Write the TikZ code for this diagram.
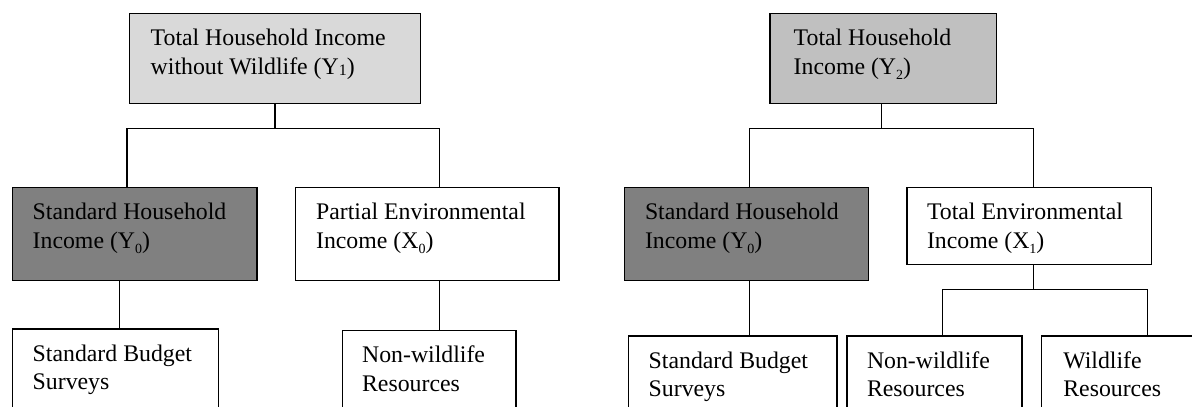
\documentclass[tikz,border=0pt]{standalone}
\usepackage{fontspec}
\setmainfont{Liberation Serif}
\newcommand\lowsub[1]{\raisebox{-5pt}{\fontsize{14}{14}\selectfont #1}}
\newcommand\flatsub[1]{\raisebox{-1.5pt}{\fontsize{16}{16}\selectfont #1}}
\definecolor{lightfill}{HTML}{D9D9D9}
\definecolor{midfill}{HTML}{C0C0C0}
\definecolor{darkfill}{HTML}{808080}
\tikzset{
  box/.style={draw=black, line width=1.5pt, inner sep=0pt, outer sep=0pt, anchor=north west, rectangle},
  txt/.style={inner sep=0pt, outer sep=0pt, anchor=base west, align=left,
    font=\fontsize{23.8}{28.6}\selectfont},
  link/.style={draw=black, line width=1.5pt}
}
\begin{document}
\begin{tikzpicture}[x=1pt,y=-1pt]
\useasboundingbox (0,0) rectangle (1192,407);
% ---------- left tree ----------
\node[box, fill=lightfill, minimum width=291, minimum height=90] (T1) at (129.3,13.7) {};
\node[box, fill=darkfill, minimum width=244.7, minimum height=92.6] (M1a) at (12.3,187.7) {};
\node[box, fill=white, minimum width=263.3, minimum height=92.6] (M1b) at (295.7,187.7) {};
\node[box, fill=white, minimum width=206, minimum height=100] (B1a) at (12.3,329) {};
\node[box, fill=white, minimum width=173.5, minimum height=100] (B1b) at (342.7,330.7) {};
\node[txt] (T1t) at ([shift={(21.4,60.6)}]T1.north west) {Total Household Income\\without Wildlife (Y\flatsub{1})};
\node[txt] (M1at) at ([shift={(20.4,60.6)}]M1a.north west) {Standard Household\\Income (Y\lowsub{0})};
\node[txt] (M1bt) at ([shift={(20.4,60.6)}]M1b.north west) {Partial Environmental\\Income (X\lowsub{0})};
\node[txt] (B1at) at ([shift={(20.4,60.6)}]B1a.north west) {Standard Budget\\Surveys};
\node[txt] (B1bt) at ([shift={(19.4,60.6)}]B1b.north west) {Non-wildlife\\Resources};
\coordinate (h1L) at (127,128.3);
\coordinate (h1R) at (439.3,128.3);
\coordinate (s1a) at (119.3,0);
\coordinate (s1b) at (439.3,0);
\draw[link] (T1.south) -- (T1.south |- h1L);
\draw[link] (h1L |- M1a.north) -- (h1L) -- (h1R) -- (h1R |- M1b.north);
\draw[link] (s1a |- M1a.south) -- (s1a |- B1a.north);
\draw[link] (s1b |- M1b.south) -- (s1b |- B1b.north);
% ---------- right tree ----------
\node[box, fill=midfill, minimum width=226.7, minimum height=90] (T2) at (770,13.7) {};
\node[box, fill=darkfill, minimum width=244.4, minimum height=92.6] (M2a) at (624.3,187.7) {};
\node[box, fill=white, minimum width=244.3, minimum height=77] (M2b) at (907,187.7) {};
\node[box, fill=white, minimum width=208.4, minimum height=100] (B2a) at (628.4,336) {};
\node[box, fill=white, minimum width=174.7, minimum height=100] (B2b) at (847.2,336) {};
\node[box, fill=white, minimum width=180, minimum height=100] (B2c) at (1041.7,336) {};
\node[txt] (T2t) at ([shift={(23.7,60.6)}]T2.north west) {Total Household\\Income (Y\lowsub{2})};
\node[txt] (M2at) at ([shift={(20.7,60.6)}]M2a.north west) {Standard Household\\Income (Y\lowsub{0})};
\node[txt] (M2bt) at ([shift={(20,60.6)}]M2b.north west) {Total Environmental\\Income (X\lowsub{1})};
\node[txt] (B2at) at ([shift={(20.3,60.6)}]B2a.north west) {Standard Budget\\Surveys};
\node[txt] (B2bt) at ([shift={(19.8,60.6)}]B2b.north west) {Non-wildlife\\Resources};
\node[txt] (B2ct) at ([shift={(21.6,60.6)}]B2c.north west) {Wildlife\\Resources};
\coordinate (h2L) at (749.3,128.3);
\coordinate (h2R) at (1033.3,128.3);
\coordinate (h3L) at (942.4,289.3);
\coordinate (h3R) at (1147.4,289.3);
\coordinate (s2t) at (881.3,0);
\coordinate (s2a) at (749.3,0);
\coordinate (s2b) at (1033.4,0);
\draw[link] (s2t |- T2.south) -- (s2t |- h2L);
\draw[link] (h2L |- M2a.north) -- (h2L) -- (h2R) -- (h2R |- M2b.north);
\draw[link] (s2a |- M2a.south) -- (s2a |- B2a.north);
\draw[link] (s2b |- M2b.south) -- (s2b |- h3L);
\draw[link] (h3L |- B2b.north) -- (h3L) -- (h3R) -- (h3R |- B2c.north);
\end{tikzpicture}
\end{document}
